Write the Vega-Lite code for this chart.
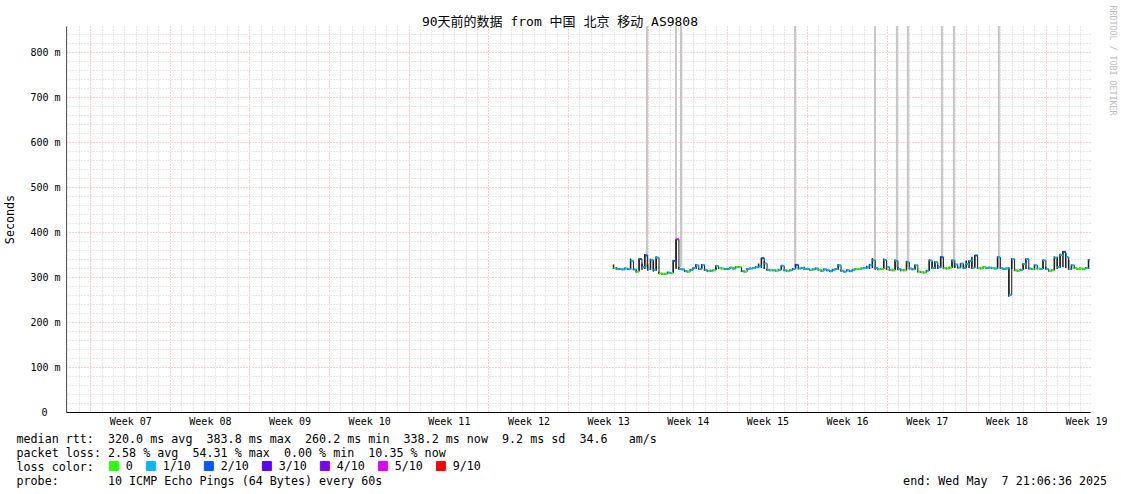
{
  "$schema": "https://vega.github.io/schema/vega-lite/v6.json",
  "width": 1024,
  "height": 386,
  "autosize": {"type": "none"},
  "padding": {"left": 66, "top": 26, "right": 31, "bottom": 82},
  "background": "#ffffff",
  "title": {
    "text": "90天前的数据 from 中国 北京 移动 AS9808",
    "font": "DejaVu Sans Mono, Noto Sans CJK SC",
    "fontSize": 13,
    "fontWeight": "normal",
    "color": "#000000",
    "anchor": "middle",
    "offset": 0,
    "dx": -18,
    "dy": 24
  },
  "data": {
    "format": {"parse": {"t": "date"}},
    "values": [
      {"t": "2025-03-27T00:00", "m": 320, "l": "0", "lo": 318, "hi": 328},
      {"t": "2025-03-27T06:00", "m": 318, "l": "1/10", "lo": 316, "hi": 322},
      {"t": "2025-03-27T12:00", "m": 318, "l": "1/10", "lo": 316, "hi": 320},
      {"t": "2025-03-27T18:00", "m": 317, "l": "1/10", "lo": 315, "hi": 319},
      {"t": "2025-03-28T00:00", "m": 319, "l": "1/10", "lo": 317, "hi": 321},
      {"t": "2025-03-28T06:00", "m": 318, "l": "1/10", "lo": 316, "hi": 320},
      {"t": "2025-03-28T12:00", "m": 336, "l": "1/10", "lo": 317, "hi": 341},
      {"t": "2025-03-28T18:00", "m": 317, "l": "1/10", "lo": 315, "hi": 319},
      {"t": "2025-03-29T00:00", "m": 312, "l": "0", "lo": 310, "hi": 316},
      {"t": "2025-03-29T06:00", "m": 340, "l": "2/10", "lo": 314, "hi": 342},
      {"t": "2025-03-29T12:00", "m": 322, "l": "1/10", "lo": 316, "hi": 330},
      {"t": "2025-03-29T18:00", "m": 348, "l": "2/10", "lo": 318, "hi": 351},
      {"t": "2025-03-30T00:00", "m": 318, "l": "1/10", "lo": 314, "hi": 328},
      {"t": "2025-03-30T06:00", "m": 338, "l": "1/10", "lo": 316, "hi": 341},
      {"t": "2025-03-30T12:00", "m": 316, "l": "1/10", "lo": 312, "hi": 338},
      {"t": "2025-03-30T18:00", "m": 343, "l": "1/10", "lo": 314, "hi": 346},
      {"t": "2025-03-31T00:00", "m": 308, "l": "0", "lo": 306, "hi": 312},
      {"t": "2025-03-31T06:00", "m": 307, "l": "0", "lo": 305, "hi": 309},
      {"t": "2025-03-31T12:00", "m": 307, "l": "0", "lo": 305, "hi": 309},
      {"t": "2025-03-31T18:00", "m": 310, "l": "1/10", "lo": 308, "hi": 312},
      {"t": "2025-04-01T00:00", "m": 309, "l": "0", "lo": 307, "hi": 311},
      {"t": "2025-04-01T06:00", "m": 336, "l": "2/10", "lo": 310, "hi": 338},
      {"t": "2025-04-01T12:00", "m": 383.8, "l": "5/10", "lo": 318, "hi": 384},
      {"t": "2025-04-01T18:00", "m": 318, "l": "1/10", "lo": 316, "hi": 322},
      {"t": "2025-04-02T00:00", "m": 317, "l": "1/10", "lo": 315, "hi": 319},
      {"t": "2025-04-02T06:00", "m": 313, "l": "1/10", "lo": 311, "hi": 315},
      {"t": "2025-04-02T12:00", "m": 312, "l": "0", "lo": 310, "hi": 314},
      {"t": "2025-04-02T18:00", "m": 316, "l": "1/10", "lo": 314, "hi": 318},
      {"t": "2025-04-03T00:00", "m": 320, "l": "1/10", "lo": 318, "hi": 322},
      {"t": "2025-04-03T06:00", "m": 326, "l": "1/10", "lo": 318, "hi": 329},
      {"t": "2025-04-03T12:00", "m": 318, "l": "1/10", "lo": 316, "hi": 320},
      {"t": "2025-04-03T18:00", "m": 327, "l": "1/10", "lo": 317, "hi": 329},
      {"t": "2025-04-04T00:00", "m": 316, "l": "1/10", "lo": 314, "hi": 318},
      {"t": "2025-04-04T06:00", "m": 313, "l": "0", "lo": 311, "hi": 315},
      {"t": "2025-04-04T12:00", "m": 314, "l": "1/10", "lo": 312, "hi": 316},
      {"t": "2025-04-04T18:00", "m": 315, "l": "0", "lo": 313, "hi": 317},
      {"t": "2025-04-05T00:00", "m": 324, "l": "1/10", "lo": 316, "hi": 326},
      {"t": "2025-04-05T06:00", "m": 320, "l": "0", "lo": 318, "hi": 322},
      {"t": "2025-04-05T12:00", "m": 319, "l": "0", "lo": 317, "hi": 321},
      {"t": "2025-04-05T18:00", "m": 318, "l": "1/10", "lo": 316, "hi": 320},
      {"t": "2025-04-06T00:00", "m": 318, "l": "1/10", "lo": 316, "hi": 320},
      {"t": "2025-04-06T06:00", "m": 321, "l": "0", "lo": 319, "hi": 323},
      {"t": "2025-04-06T12:00", "m": 319, "l": "1/10", "lo": 317, "hi": 321},
      {"t": "2025-04-06T18:00", "m": 322, "l": "0", "lo": 320, "hi": 324},
      {"t": "2025-04-07T00:00", "m": 322, "l": "0", "lo": 320, "hi": 324},
      {"t": "2025-04-07T06:00", "m": 313, "l": "1/10", "lo": 311, "hi": 315},
      {"t": "2025-04-07T12:00", "m": 312, "l": "0", "lo": 310, "hi": 314},
      {"t": "2025-04-07T18:00", "m": 318, "l": "1/10", "lo": 316, "hi": 320},
      {"t": "2025-04-08T00:00", "m": 319, "l": "1/10", "lo": 317, "hi": 321},
      {"t": "2025-04-08T06:00", "m": 320, "l": "1/10", "lo": 318, "hi": 322},
      {"t": "2025-04-08T12:00", "m": 322, "l": "1/10", "lo": 320, "hi": 324},
      {"t": "2025-04-08T18:00", "m": 324, "l": "1/10", "lo": 320, "hi": 330},
      {"t": "2025-04-09T00:00", "m": 342, "l": "2/10", "lo": 320, "hi": 343},
      {"t": "2025-04-09T06:00", "m": 330, "l": "1/10", "lo": 318, "hi": 336},
      {"t": "2025-04-09T12:00", "m": 316, "l": "1/10", "lo": 314, "hi": 318},
      {"t": "2025-04-09T18:00", "m": 315, "l": "0", "lo": 313, "hi": 317},
      {"t": "2025-04-10T00:00", "m": 315, "l": "1/10", "lo": 313, "hi": 317},
      {"t": "2025-04-10T06:00", "m": 314, "l": "0", "lo": 312, "hi": 316},
      {"t": "2025-04-10T12:00", "m": 316, "l": "1/10", "lo": 314, "hi": 318},
      {"t": "2025-04-10T18:00", "m": 325, "l": "1/10", "lo": 316, "hi": 327},
      {"t": "2025-04-11T00:00", "m": 315, "l": "1/10", "lo": 313, "hi": 317},
      {"t": "2025-04-11T06:00", "m": 313, "l": "0", "lo": 311, "hi": 315},
      {"t": "2025-04-11T12:00", "m": 315, "l": "1/10", "lo": 313, "hi": 317},
      {"t": "2025-04-11T18:00", "m": 318, "l": "1/10", "lo": 316, "hi": 320},
      {"t": "2025-04-12T00:00", "m": 327, "l": "2/10", "lo": 318, "hi": 329},
      {"t": "2025-04-12T06:00", "m": 319, "l": "1/10", "lo": 317, "hi": 323},
      {"t": "2025-04-12T12:00", "m": 320, "l": "1/10", "lo": 318, "hi": 322},
      {"t": "2025-04-12T18:00", "m": 318, "l": "1/10", "lo": 316, "hi": 323},
      {"t": "2025-04-13T00:00", "m": 318, "l": "1/10", "lo": 316, "hi": 320},
      {"t": "2025-04-13T06:00", "m": 316, "l": "0", "lo": 314, "hi": 318},
      {"t": "2025-04-13T12:00", "m": 317, "l": "1/10", "lo": 315, "hi": 319},
      {"t": "2025-04-13T18:00", "m": 319, "l": "1/10", "lo": 317, "hi": 321},
      {"t": "2025-04-14T00:00", "m": 316, "l": "0", "lo": 314, "hi": 318},
      {"t": "2025-04-14T06:00", "m": 314, "l": "1/10", "lo": 312, "hi": 316},
      {"t": "2025-04-14T12:00", "m": 317, "l": "1/10", "lo": 315, "hi": 319},
      {"t": "2025-04-14T18:00", "m": 315, "l": "1/10", "lo": 313, "hi": 317},
      {"t": "2025-04-15T00:00", "m": 313, "l": "1/10", "lo": 311, "hi": 315},
      {"t": "2025-04-15T06:00", "m": 316, "l": "1/10", "lo": 314, "hi": 318},
      {"t": "2025-04-15T12:00", "m": 318, "l": "1/10", "lo": 316, "hi": 320},
      {"t": "2025-04-15T18:00", "m": 326, "l": "1/10", "lo": 316, "hi": 329},
      {"t": "2025-04-16T00:00", "m": 314, "l": "1/10", "lo": 312, "hi": 316},
      {"t": "2025-04-16T06:00", "m": 312, "l": "1/10", "lo": 310, "hi": 314},
      {"t": "2025-04-16T12:00", "m": 315, "l": "1/10", "lo": 313, "hi": 317},
      {"t": "2025-04-16T18:00", "m": 313, "l": "1/10", "lo": 311, "hi": 315},
      {"t": "2025-04-17T00:00", "m": 316, "l": "1/10", "lo": 314, "hi": 318},
      {"t": "2025-04-17T06:00", "m": 318, "l": "0", "lo": 316, "hi": 320},
      {"t": "2025-04-17T12:00", "m": 318, "l": "0", "lo": 316, "hi": 320},
      {"t": "2025-04-17T18:00", "m": 319, "l": "1/10", "lo": 317, "hi": 321},
      {"t": "2025-04-18T00:00", "m": 320, "l": "1/10", "lo": 318, "hi": 322},
      {"t": "2025-04-18T06:00", "m": 322, "l": "1/10", "lo": 318, "hi": 325},
      {"t": "2025-04-18T12:00", "m": 327, "l": "1/10", "lo": 318, "hi": 329},
      {"t": "2025-04-18T18:00", "m": 337, "l": "1/10", "lo": 320, "hi": 342},
      {"t": "2025-04-19T00:00", "m": 320, "l": "1/10", "lo": 316, "hi": 323},
      {"t": "2025-04-19T06:00", "m": 317, "l": "0", "lo": 315, "hi": 319},
      {"t": "2025-04-19T12:00", "m": 318, "l": "0", "lo": 316, "hi": 320},
      {"t": "2025-04-19T18:00", "m": 338, "l": "1/10", "lo": 318, "hi": 341},
      {"t": "2025-04-20T00:00", "m": 322, "l": "1/10", "lo": 316, "hi": 325},
      {"t": "2025-04-20T06:00", "m": 316, "l": "0", "lo": 314, "hi": 318},
      {"t": "2025-04-20T12:00", "m": 315, "l": "0", "lo": 313, "hi": 317},
      {"t": "2025-04-20T18:00", "m": 336, "l": "1/10", "lo": 316, "hi": 339},
      {"t": "2025-04-21T00:00", "m": 318, "l": "1/10", "lo": 315, "hi": 322},
      {"t": "2025-04-21T06:00", "m": 315, "l": "0", "lo": 313, "hi": 317},
      {"t": "2025-04-21T12:00", "m": 315, "l": "0", "lo": 313, "hi": 317},
      {"t": "2025-04-21T18:00", "m": 333, "l": "1/10", "lo": 315, "hi": 336},
      {"t": "2025-04-22T00:00", "m": 319, "l": "1/10", "lo": 317, "hi": 321},
      {"t": "2025-04-22T06:00", "m": 317, "l": "1/10", "lo": 315, "hi": 319},
      {"t": "2025-04-22T12:00", "m": 326, "l": "1/10", "lo": 316, "hi": 328},
      {"t": "2025-04-22T18:00", "m": 312, "l": "0", "lo": 310, "hi": 314},
      {"t": "2025-04-23T00:00", "m": 311, "l": "0", "lo": 309, "hi": 313},
      {"t": "2025-04-23T06:00", "m": 310, "l": "0", "lo": 308, "hi": 312},
      {"t": "2025-04-23T12:00", "m": 314, "l": "1/10", "lo": 312, "hi": 316},
      {"t": "2025-04-23T18:00", "m": 337, "l": "1/10", "lo": 314, "hi": 339},
      {"t": "2025-04-24T00:00", "m": 320, "l": "1/10", "lo": 318, "hi": 334},
      {"t": "2025-04-24T06:00", "m": 333, "l": "1/10", "lo": 318, "hi": 335},
      {"t": "2025-04-24T12:00", "m": 322, "l": "1/10", "lo": 318, "hi": 326},
      {"t": "2025-04-24T18:00", "m": 344, "l": "2/10", "lo": 320, "hi": 346},
      {"t": "2025-04-25T00:00", "m": 320, "l": "0", "lo": 318, "hi": 322},
      {"t": "2025-04-25T06:00", "m": 319, "l": "0", "lo": 317, "hi": 321},
      {"t": "2025-04-25T12:00", "m": 321, "l": "0", "lo": 319, "hi": 323},
      {"t": "2025-04-25T18:00", "m": 337, "l": "1/10", "lo": 320, "hi": 339},
      {"t": "2025-04-26T00:00", "m": 328, "l": "1/10", "lo": 320, "hi": 330},
      {"t": "2025-04-26T06:00", "m": 321, "l": "1/10", "lo": 319, "hi": 323},
      {"t": "2025-04-26T12:00", "m": 330, "l": "1/10", "lo": 320, "hi": 331},
      {"t": "2025-04-26T18:00", "m": 320, "l": "1/10", "lo": 318, "hi": 327},
      {"t": "2025-04-27T00:00", "m": 329, "l": "1/10", "lo": 320, "hi": 337},
      {"t": "2025-04-27T06:00", "m": 336, "l": "1/10", "lo": 320, "hi": 338},
      {"t": "2025-04-27T12:00", "m": 321, "l": "1/10", "lo": 318, "hi": 345},
      {"t": "2025-04-27T18:00", "m": 348, "l": "2/10", "lo": 320, "hi": 349},
      {"t": "2025-04-28T00:00", "m": 320, "l": "0", "lo": 318, "hi": 322},
      {"t": "2025-04-28T06:00", "m": 319, "l": "0", "lo": 317, "hi": 321},
      {"t": "2025-04-28T12:00", "m": 322, "l": "0", "lo": 320, "hi": 324},
      {"t": "2025-04-28T18:00", "m": 320, "l": "1/10", "lo": 318, "hi": 322},
      {"t": "2025-04-29T00:00", "m": 321, "l": "1/10", "lo": 319, "hi": 323},
      {"t": "2025-04-29T06:00", "m": 320, "l": "0", "lo": 318, "hi": 322},
      {"t": "2025-04-29T12:00", "m": 319, "l": "1/10", "lo": 317, "hi": 321},
      {"t": "2025-04-29T18:00", "m": 344, "l": "1/10", "lo": 318, "hi": 346},
      {"t": "2025-04-30T00:00", "m": 320, "l": "1/10", "lo": 318, "hi": 322},
      {"t": "2025-04-30T06:00", "m": 318, "l": "1/10", "lo": 316, "hi": 320},
      {"t": "2025-04-30T12:00", "m": 319, "l": "1/10", "lo": 317, "hi": 321},
      {"t": "2025-04-30T18:00", "m": 260.2, "l": "1/10", "lo": 256, "hi": 322},
      {"t": "2025-05-01T00:00", "m": 340, "l": "1/10", "lo": 318, "hi": 342},
      {"t": "2025-05-01T06:00", "m": 315, "l": "0", "lo": 313, "hi": 317},
      {"t": "2025-05-01T12:00", "m": 314, "l": "0", "lo": 312, "hi": 316},
      {"t": "2025-05-01T18:00", "m": 316, "l": "1/10", "lo": 314, "hi": 318},
      {"t": "2025-05-02T00:00", "m": 329, "l": "1/10", "lo": 316, "hi": 331},
      {"t": "2025-05-02T06:00", "m": 340, "l": "1/10", "lo": 318, "hi": 342},
      {"t": "2025-05-02T12:00", "m": 319, "l": "1/10", "lo": 317, "hi": 321},
      {"t": "2025-05-02T18:00", "m": 318, "l": "0", "lo": 316, "hi": 320},
      {"t": "2025-05-03T00:00", "m": 326, "l": "1/10", "lo": 316, "hi": 328},
      {"t": "2025-05-03T06:00", "m": 319, "l": "0", "lo": 317, "hi": 321},
      {"t": "2025-05-03T12:00", "m": 318, "l": "1/10", "lo": 316, "hi": 320},
      {"t": "2025-05-03T18:00", "m": 337, "l": "1/10", "lo": 318, "hi": 339},
      {"t": "2025-05-04T00:00", "m": 318, "l": "1/10", "lo": 316, "hi": 322},
      {"t": "2025-05-04T06:00", "m": 314, "l": "0", "lo": 312, "hi": 316},
      {"t": "2025-05-04T12:00", "m": 315, "l": "0", "lo": 313, "hi": 317},
      {"t": "2025-05-04T18:00", "m": 343, "l": "1/10", "lo": 315, "hi": 346},
      {"t": "2025-05-05T00:00", "m": 322, "l": "1/10", "lo": 318, "hi": 345},
      {"t": "2025-05-05T06:00", "m": 349, "l": "1/10", "lo": 320, "hi": 352},
      {"t": "2025-05-05T12:00", "m": 356, "l": "2/10", "lo": 322, "hi": 358},
      {"t": "2025-05-05T18:00", "m": 344, "l": "1/10", "lo": 320, "hi": 353},
      {"t": "2025-05-06T00:00", "m": 318, "l": "1/10", "lo": 316, "hi": 338},
      {"t": "2025-05-06T06:00", "m": 326, "l": "1/10", "lo": 316, "hi": 328},
      {"t": "2025-05-06T12:00", "m": 320, "l": "0", "lo": 318, "hi": 322},
      {"t": "2025-05-06T18:00", "m": 318, "l": "0", "lo": 316, "hi": 320},
      {"t": "2025-05-07T00:00", "m": 319, "l": "0", "lo": 317, "hi": 321},
      {"t": "2025-05-07T06:00", "m": 318, "l": "0", "lo": 316, "hi": 320},
      {"t": "2025-05-07T12:00", "m": 320, "l": "1/10", "lo": 318, "hi": 322},
      {"t": "2025-05-07T18:00", "m": 338, "l": "1/10", "lo": 318, "hi": 340},
      {"t": "2025-05-07T21:00", "m": 338.2, "l": "1/10", "lo": 336, "hi": 340}
    ]
  },
  "encoding": {
    "x": {
      "field": "t",
      "type": "temporal",
      "scale": {
        "domain": [
          {"year": 2025, "month": 2, "date": 6, "hours": 21, "minutes": 6, "seconds": 36},
          {"year": 2025, "month": 5, "date": 7, "hours": 21, "minutes": 6, "seconds": 36}
        ],
        "nice": false
      },
      "axis": {
        "title": [
          "median rtt:\u00a0\u00a0320.0 ms avg\u00a0\u00a0383.8 ms max\u00a0\u00a0260.2 ms min\u00a0\u00a0338.2 ms now\u00a0\u00a09.2 ms sd\u00a0\u00a034.6\u00a0\u00a0\u00a0am/s",
          "packet loss: 2.58 % avg\u00a0\u00a054.31 % max\u00a0\u00a00.00 % min\u00a0\u00a010.35 % now",
          "loss color:",
          "probe:\u00a0\u00a0\u00a0\u00a0\u00a0\u00a0\u00a010 ICMP Echo Pings (64 Bytes) every 60s\u00a0\u00a0\u00a0\u00a0\u00a0\u00a0\u00a0\u00a0\u00a0\u00a0\u00a0\u00a0\u00a0\u00a0\u00a0\u00a0\u00a0\u00a0\u00a0\u00a0\u00a0\u00a0\u00a0\u00a0\u00a0\u00a0\u00a0\u00a0\u00a0\u00a0\u00a0\u00a0\u00a0\u00a0\u00a0\u00a0\u00a0\u00a0\u00a0\u00a0\u00a0\u00a0\u00a0\u00a0\u00a0\u00a0\u00a0\u00a0\u00a0\u00a0\u00a0\u00a0\u00a0\u00a0\u00a0\u00a0\u00a0\u00a0\u00a0\u00a0\u00a0\u00a0\u00a0\u00a0\u00a0\u00a0\u00a0\u00a0\u00a0\u00a0\u00a0\u00a0\u00a0\u00a0end: Wed May\u00a0\u00a07 21:06:36 2025"
        ],
        "tickCount": {"interval": "day", "step": 1},
        "grid": true,
        "gridColor": {"condition": {"test": "day(datum.value) === 0", "value": "#f2a0a0"}, "value": "#d0d0d0"},
        "gridDash": [1, 2],
        "gridWidth": 1,
        "ticks": false,
        "domain": true,
        "domainColor": "#000000",
        "domainWidth": 1,
        "labelExpr": "day(datum.value) === 3 ? 'Week ' + timeFormat(datum.value, '%V') : ''",
        "labelOffset": 6,
        "labelOverlap": false,
        "labelFlush": false,
        "labelBound": false,
        "labelFont": "DejaVu Sans Mono",
        "labelFontSize": 10,
        "labelColor": "#000000",
        "labelPadding": 4,
        "titleFont": "DejaVu Sans Mono",
        "titleFontSize": 11.7,
        "titleFontWeight": "normal",
        "titleColor": "#000000",
        "titleAlign": "left",
        "titleBaseline": "alphabetic",
        "titleAnchor": "start",
        "titleX": -50,
        "titleY": 30,
        "titleLineHeight": 14
      }
    }
  },
  "layer": [
    {
      "data": {
        "values": [
          {"t": "2025-03-29T22:30", "lo": 322, "hi": 1000},
          {"t": "2025-04-01T11:45", "lo": 322, "hi": 1000},
          {"t": "2025-04-01T22:20", "lo": 322, "hi": 1000},
          {"t": "2025-04-11T22:50", "lo": 322, "hi": 1000},
          {"t": "2025-04-18T23:30", "lo": 322, "hi": 1000},
          {"t": "2025-04-20T21:50", "lo": 322, "hi": 1000},
          {"t": "2025-04-21T21:00", "lo": 322, "hi": 1000},
          {"t": "2025-04-24T20:40", "lo": 322, "hi": 1000},
          {"t": "2025-04-25T22:00", "lo": 322, "hi": 1000},
          {"t": "2025-04-29T20:50", "lo": 322, "hi": 1000}
        ]
      },
      "mark": {"type": "rule", "color": "#c6c6c6", "strokeWidth": 2, "clip": true},
      "encoding": {
        "y": {
          "field": "lo",
          "type": "quantitative",
          "scale": {"domain": [0, 858], "nice": false},
          "axis": {
            "orient": "right",
            "labels": false,
            "ticks": false,
            "domain": false,
            "grid": false,
            "title": "RRDTOOL / TOBI OETIKER",
            "titleAngle": 90,
            "titleFont": "DejaVu Sans Mono",
            "titleFontSize": 8.3,
            "titleFontWeight": "normal",
            "titleColor": "#bdbdbd",
            "titleAlign": "left",
            "titleBaseline": "middle",
            "titleX": 21,
            "titleY": -21
          }
        },
        "y2": {"field": "hi"}
      }
    },
    {
      "mark": {"type": "rule", "color": "#1e1e1e", "strokeWidth": 1.5, "clip": true},
      "encoding": {
        "y": {"field": "lo", "type": "quantitative", "scale": {"domain": [0, 858], "nice": false}, "axis": null},
        "y2": {"field": "hi"}
      }
    },
    {
      "mark": {"type": "line", "interpolate": "step-after", "color": "#1e1e1e", "strokeWidth": 1, "clip": true},
      "encoding": {
        "y": {
          "field": "m",
          "type": "quantitative",
          "scale": {"domain": [0, 858], "nice": false},
          "axis": {
            "title": "Seconds",
            "values": [0, 20, 40, 60, 80, 100, 120, 140, 160, 180, 200, 220, 240, 260, 280, 300, 320, 340, 360, 380, 400, 420, 440, 460, 480, 500, 520, 540, 560, 580, 600, 620, 640, 660, 680, 700, 720, 740, 760, 780, 800, 820, 840],
            "grid": true,
            "gridColor": {"condition": {"test": "datum.value % 100 === 0", "value": "#f2a0a0"}, "value": "#d0d0d0"},
            "gridDash": [1, 2],
            "gridWidth": 1,
            "ticks": false,
            "domain": true,
            "domainColor": "#5a5a5a",
            "domainWidth": 1,
            "labelExpr": "datum.value % 100 === 0 ? (datum.value === 0 ? '0' : datum.value + ' m') : ''",
            "labelOverlap": false,
            "labelFont": "DejaVu Sans Mono",
            "labelFontSize": 10,
            "labelColor": "#000000",
            "labelPadding": {"condition": {"test": "datum.value === 0", "value": 19}, "value": 6},
            "titleFont": "DejaVu Sans Mono",
            "titleFontSize": 11.7,
            "titleFontWeight": "normal",
            "titleColor": "#000000",
            "titlePadding": 14
          }
        }
      }
    },
    {
      "transform": [
        {"window": [{"op": "lead", "field": "t", "as": "t2"}], "sort": [{"field": "t", "order": "ascending"}]},
        {"filter": "datum.t2 != null"}
      ],
      "mark": {"type": "rule", "strokeWidth": 2, "clip": true},
      "encoding": {
        "x2": {"field": "t2"},
        "y": {"field": "m", "type": "quantitative", "scale": {"domain": [0, 858], "nice": false}, "axis": null},
        "color": {
          "field": "l",
          "type": "nominal",
          "scale": {
            "domain": ["0", "1/10", "2/10", "3/10", "4/10", "5/10", "9/10"],
            "range": ["#26ff00", "#00b8ff", "#0059ff", "#5e00ff", "#7e00ff", "#dd00ff", "#ff0000"]
          },
          "legend": {
            "orient": "none",
            "legendX": 42,
            "legendY": 434,
            "direction": "horizontal",
            "columns": 7,
            "title": null,
            "padding": 0,
            "symbolType": "square",
            "symbolSize": 81,
            "symbolStrokeColor": "#000000",
            "symbolStrokeWidth": 1,
            "labelFont": "DejaVu Sans Mono",
            "labelFontSize": 11.7,
            "labelColor": "#000000",
            "labelOffset": 6,
            "columnPadding": 11,
            "encode": {
              "symbols": {
                "update": {
                  "fill": {"scale": "color", "field": "value"},
                  "stroke": {"value": "#000000"},
                  "strokeWidth": {"value": 1},
                  "opacity": {"value": 1}
                }
              }
            }
          }
        }
      }
    }
  ],
  "resolve": {"axis": {"y": "independent"}},
  "config": {
    "view": {"stroke": null},
    "font": "DejaVu Sans Mono"
  }
}
